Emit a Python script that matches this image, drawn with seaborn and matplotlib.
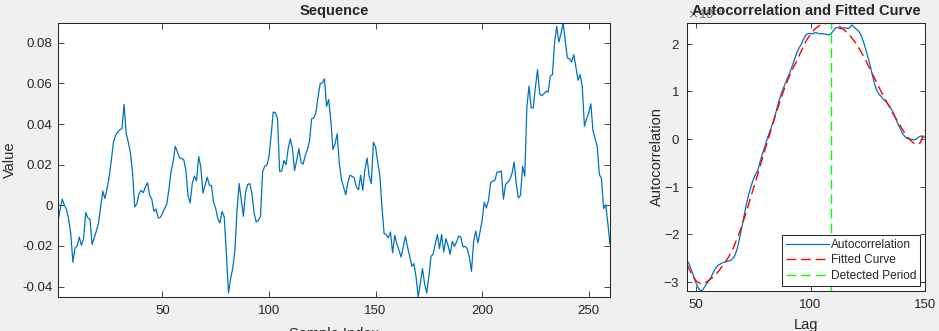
import matplotlib
matplotlib.use("Agg")
import matplotlib.pyplot as plt
import seaborn as sns
from matplotlib.ticker import ScalarFormatter

# ---------------- data ----------------
sample_index = list(range(1, 261))
sequence = [
    -0.008, -0.002, 0.003, 0.000, -0.002, -0.007, -0.014, -0.028, -0.021, -0.020,
    -0.0156, -0.0197, -0.0164, -0.0036, -0.0062, -0.007, -0.0193, -0.0159, -0.0126, -0.0087,
    -0.0008, 0.007, 0.0033, 0.0082, 0.0139, 0.022, 0.031, 0.0344, 0.036, 0.0372,
    0.0377, 0.0497, 0.0352, 0.031, 0.0257, 0.0156, -0.0008, 0.0008, 0.0057, 0.0074,
    0.0062, 0.009, 0.0111, 0.0049, 0.003, -0.003, -0.0018, -0.0062, -0.006, -0.004,
    -0.0016, 0.0005, 0.0074, 0.0164, 0.0213, 0.029, 0.0265, 0.0234, 0.023, 0.0225,
    0.0172, 0.0049, 0.0011, 0.0107, 0.0144, 0.012, 0.024, 0.0189, 0.0061, 0.0098,
    0.0139, 0.01, 0.0097, 0.0016, -0.0016, -0.0066, -0.0087, -0.003, -0.0057, -0.0238,
    -0.0431, -0.036, -0.031, -0.0221, -0.0025, 0.0107, 0.0025, -0.0054, 0.0066, 0.0102,
    0.0107, 0.0057, -0.0038, -0.0082, -0.0074, -0.0054, 0.0164, 0.0193, 0.0197, 0.0241,
    0.0344, 0.0459, 0.0456, 0.0426, 0.0167, 0.0169, 0.0221, 0.02, 0.0279, 0.0328,
    0.0279, 0.0172, 0.0221, 0.0279, 0.0213, 0.0202, 0.0246, 0.0274, 0.0316, 0.0426,
    0.043, 0.0454, 0.0533, 0.0598, 0.0602, 0.0623, 0.0487, 0.0521, 0.0418, 0.0274,
    0.0303, 0.0352, 0.0205, 0.0126, 0.009, 0.0052, 0.0111, 0.0148, 0.0143, 0.0136,
    0.009, 0.0077, 0.0148, 0.0074, 0.0175, 0.0233, 0.0143, 0.0107, 0.0311, 0.0287,
    0.0213, 0.0148, -0.0008, -0.0139, -0.0144, -0.016, -0.0131, -0.0234, -0.0148, -0.0189,
    -0.0221, -0.0254, -0.0205, -0.0152, -0.0205, -0.0249, -0.03, -0.0287, -0.0352, -0.0451,
    -0.0385, -0.0311, -0.0385, -0.0431, -0.0352, -0.0251, -0.0241, -0.0189, -0.0144, -0.0213,
    -0.0143, -0.023, -0.0164, -0.0197, -0.0241, -0.0177, -0.0202, -0.018, -0.0151, -0.0156,
    -0.0205, -0.0202, -0.0213, -0.0254, -0.0325, -0.018, -0.0126, -0.0185, -0.0131, -0.0074,
    0.0015, -0.0013, 0.0025, 0.0111, 0.012, 0.0123, 0.0164, 0.0164, 0.0169, 0.003,
    0.0102, 0.0115, 0.0126, 0.0156, 0.0213, 0.0107, 0.0036, 0.0049, 0.0193, 0.0143,
    0.0484, 0.0587, 0.0479, 0.048, 0.0582, 0.0667, 0.0549, 0.0539, 0.0549, 0.0561,
    0.0557, 0.0636, 0.0643, 0.0803, 0.088, 0.0803, 0.0844, 0.0897, 0.0811, 0.0725,
    0.0721, 0.0705, 0.0741, 0.068, 0.0615, 0.0643, 0.0582, 0.0389, 0.0426, 0.0454,
    0.05, 0.0369, 0.0328, 0.029, 0.0152, 0.0131, -0.0016, 0.0003, -0.009, -0.0192,
]

acf_scale = 1e-4
acf_lags = list(range(46, 151))
acf_values = [
    -2.55, -2.63, -2.76, -2.90, -3.03, -3.13, -3.19, -3.16, -3.08, -3.01,
    -2.95, -2.85, -2.75, -2.68, -2.64, -2.61, -2.59, -2.58, -2.56, -2.55,
    -2.51, -2.44, -2.29, -2.08, -1.84, -1.60, -1.36, -1.16, -0.99, -0.85,
    -0.74, -0.65, -0.47, -0.31, -0.16, -0.01, 0.13, 0.27, 0.40, 0.58,
    0.77, 0.92, 1.05, 1.17, 1.29, 1.40, 1.53, 1.67, 1.81, 1.91,
    1.99, 2.10, 2.18, 2.21, 2.21, 2.20, 2.23, 2.22, 2.20, 2.21,
    2.20, 2.19, 2.18, 2.21, 2.27, 2.33, 2.33, 2.31, 2.32, 2.33,
    2.32, 2.32, 2.39, 2.35, 2.30, 2.26, 2.18, 2.05, 1.90, 1.72,
    1.55, 1.34, 1.15, 1.01, 0.93, 0.88, 0.82, 0.78, 0.72, 0.65,
    0.56, 0.45, 0.33, 0.23, 0.13, 0.06, 0.01, 0.00, -0.01, -0.02,
    -0.01, 0.03, 0.06, 0.05, 0.03,
]
fit_lags = list(range(46, 151, 2))
fit_values = [
    -2.63, -2.84, -2.98, -3.04, -3.02, -2.95, -2.88, -2.76, -2.63, -2.49,
    -2.31, -2.08, -1.82, -1.52, -1.20, -0.89, -0.56, -0.24, 0.07, 0.40,
    0.69, 0.98, 1.23, 1.45, 1.64, 1.85, 2.05, 2.20, 2.31, 2.38,
    2.41, 2.43, 2.42, 2.38, 2.31, 2.23, 2.12, 1.99, 1.83, 1.66,
    1.45, 1.27, 1.07, 0.88, 0.71, 0.53, 0.37, 0.21, 0.06, -0.05,
    -0.12, -0.08, 0.18,
]
detected_period = 109

seq_xticks = [50, 100, 150, 200, 250]
seq_yticks = [-0.04, -0.02, 0, 0.02, 0.04, 0.06, 0.08]
seq_yticklabels = ["-0.04", "-0.02", "0", "0.02", "0.04", "0.06", "0.08"]
acf_xticks = [50, 100, 150]
acf_yticks = [-3, -2, -1, 0, 1, 2]

# ---------------- style ----------------
sns.set_style("ticks")
dark = "#262626"
plt.rcParams.update({
    "font.family": ["Liberation Sans", "DejaVu Sans"],
    "axes.unicode_minus": False,
    "axes.edgecolor": dark,
    "axes.linewidth": 0.75,
    "xtick.color": dark,
    "ytick.color": dark,
    "xtick.direction": "in",
    "ytick.direction": "in",
    "xtick.top": True,
    "ytick.right": True,
    "xtick.major.width": 0.6,
    "ytick.major.width": 0.6,
    "xtick.labelsize": 9.5,
    "ytick.labelsize": 9.5,
    "axes.labelcolor": dark,
})

W, H = 939, 331
fig = plt.figure(figsize=(W / 100, H / 100), dpi=100, facecolor="#F0F0F0")

ax1 = fig.add_axes([58 / W, 1 - 297 / H, 552 / W, 274 / H])
ax2 = fig.add_axes([687 / W, 1 - 291 / H, 238 / W, 268 / H])

blue = "#0072BD"

# ---- left: sequence ----
sns.lineplot(x=sample_index, y=sequence, ax=ax1, color=blue, linewidth=0.9)
ax1.set_xlim(min(sample_index), max(sample_index))
ax1.set_ylim(min(sequence), max(sequence))
ax1.set_xticks(seq_xticks)
ax1.set_yticks(seq_yticks)
ax1.set_yticklabels(seq_yticklabels)
ax1.tick_params(axis="both", length=4.5)
ax1.tick_params(axis="x", pad=6)
ax1.tick_params(axis="y", pad=4)
ax1.set_title("Sequence", fontsize=10.5, fontweight="bold", pad=6, y=1.0)
ax1.set_xlabel("Sample Index", fontsize=10.5, labelpad=7)
ax1.set_ylabel("Value", fontsize=10.5, labelpad=4)

# ---- right: autocorrelation ----
acf = [v * acf_scale for v in acf_values]
fit = [v * acf_scale for v in fit_values]
sns.lineplot(x=acf_lags, y=acf, ax=ax2, color=blue, linewidth=0.9,
             label="Autocorrelation")
sns.lineplot(x=fit_lags, y=fit, ax=ax2, color="#FF0000", linewidth=1.0,
             linestyle=(0, (7, 3.5)), label="Fitted Curve")
ax2.axvline(detected_period, color="#00FF00", linewidth=1.0,
            linestyle=(0, (7, 3.5)), label="Detected Period")
ax2.set_xlim(min(acf_lags), max(acf_lags))
ax2.set_ylim(min(acf + fit), max(acf + fit))
ax2.set_xticks(acf_xticks)
ax2.set_yticks([t * acf_scale for t in acf_yticks])
fmt = ScalarFormatter(useMathText=True)
fmt.set_powerlimits((-3, 3))
ax2.yaxis.set_major_formatter(fmt)
ax2.yaxis.get_offset_text().set_fontsize(9.5)
ax2.yaxis.get_offset_text().set_color("#707070")
ax2.tick_params(axis="both", length=3.5)
ax2.tick_params(axis="x", pad=6)
ax2.tick_params(axis="y", pad=5)
ax2.set_title("Autocorrelation and Fitted Curve", fontsize=10.5,
              fontweight="bold", pad=6, y=1.0, zorder=10)
ax2.set_xlabel("Lag", fontsize=10.5, labelpad=5)
ax2.set_ylabel("Autocorrelation", fontsize=10.5, labelpad=0)

leg = ax2.legend(loc="lower right", fontsize=8.6, frameon=True, fancybox=False,
                 framealpha=1, edgecolor=dark, borderpad=0.3, labelspacing=0.3,
                 handlelength=3.6, handletextpad=0.15, borderaxespad=0.45)
leg.get_frame().set_linewidth(0.75)

fig.savefig("out.png", dpi=100, facecolor=fig.get_facecolor())
